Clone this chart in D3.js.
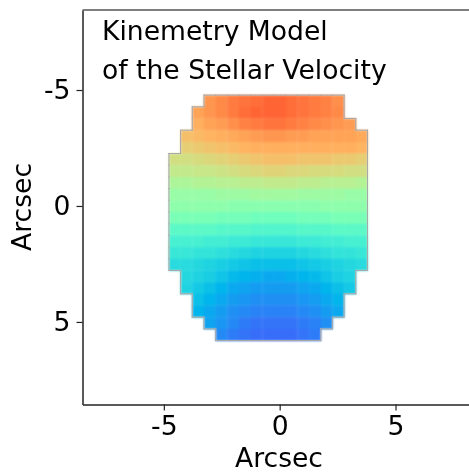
<!DOCTYPE html>
<html><head><meta charset="utf-8">
<script src="https://cdn.jsdelivr.net/npm/d3@7"></script>
<style>html,body{margin:0;padding:0;background:#fff}svg{display:block}
text{font-family:"DejaVu Sans",sans-serif;fill:#000}</style></head>
<body><svg id="c" width="469" height="472"></svg>
<script>
const xTicks=[-5,0,5], yTicks=[-5,0,5];
const xLabel="Arcsec", yLabel="Arcsec";
const titleLines=["Kinemetry Model","of the Stellar Velocity"];
const firstCol=-4.78, firstRow=-4.78, cellSize=0.504;
// colour position (0-100) per spaxel, top row first; null = no data
const _=null;
const velocity=[
[_,_,_,80,82,84,85,86,87,87,86,85,84,83,81,_,_],
[_,_,78,80,82,84,86,87,87,87,86,85,84,83,82,_,_],
[_,_,76,78,79,81,83,84,85,85,84,83,82,81,80,79,_],
[_,73,74,75,76,77,78,79,80,80,79,79,78,78,78,78,77],
[_,70,71,72,73,74,75,76,76,76,76,76,76,76,76,76,75],
[66,66,67,68,69,70,71,72,73,73,73,72,72,72,71,71,70],
[63,63,64,64,65,66,67,68,69,69,68,68,67,67,67,66,66],
[59,59,60,60,61,61,62,62,63,63,63,62,62,61,61,61,60],
[55,55,55,55,56,56,56,57,57,57,57,56,56,56,56,55,55],
[53,53,53,53,53,52,52,52,52,52,52,52,52,53,53,53,53],
[49,49,49,49,48,48,48,47,47,47,47,48,48,48,49,49,49],
[43,43,43,43,42,42,42,41,41,41,41,42,42,42,43,43,43],
[39,39,39,38,38,37,37,36,36,36,36,37,37,38,38,39,39],
[36,36,35,35,34,33,32,31,31,31,31,32,33,34,35,35,36],
[33,33,32,31,30,29,28,27,27,27,27,28,29,30,31,32,33],
[_,32,31,30,28,26,25,24,23,23,24,25,26,28,30,31,_],
[_,31,29,27,25,23,22,21,21,21,21,22,23,25,27,29,_],
[_,_,27,25,23,21,20,19,19,19,19,20,21,23,25,_,_],
[_,_,25,23,21,19,18,17,17,17,17,18,19,21,23,_,_],
[_,_,_,22,20,18,16,15,15,15,15,16,17,19,_,_,_],
[_,_,_,_,18,16,15,14,14,14,14,15,16,_,_,_,_]
];
function rainbow(t){
  const r=Math.min(1,Math.abs(2*t-0.5)),g=Math.sin(Math.PI*t),b=Math.cos(Math.PI*t/2);
  return d3.rgb(255*r,255*g,255*b);
}
const color=d3.scaleSequential(rainbow).domain([0,100]);
const svg=d3.select("#c");
const L=82.5,B=404.5,T=10,FS="26.6px",AXC="#222";
const x=d3.scaleLinear().domain([-8.51,8.3]).range([L,472]);
const y=d3.scaleLinear().domain([-8.45,8.56]).range([T,B]);
const cells=[];
velocity.forEach((row,i)=>row.forEach((v,j)=>{if(v!==null)cells.push({i,j,v});}));
const X=j=>x(firstCol+j*cellSize), Y=i=>y(firstRow+i*cellSize);
const g=svg.append("g").style("filter","blur(0.8px)");
g.selectAll("rect").data(cells).join("rect")
 .attr("x",d=>X(d.j)).attr("y",d=>Y(d.i))
 .attr("width",d=>X(d.j+1)-X(d.j)+.3).attr("height",d=>Y(d.i+1)-Y(d.i)+.3)
 .attr("fill",d=>color(d.v));
const has=(i,j)=>i>=0&&i<velocity.length&&j>=0&&j<velocity[0].length&&velocity[i][j]!==null;
const edges=[];
cells.forEach(({i,j})=>{
 if(!has(i-1,j))edges.push([X(j),Y(i),X(j+1),Y(i)]);
 if(!has(i,j-1))edges.push([X(j),Y(i),X(j),Y(i+1)]);
 if(!has(i,j+1))edges.push([X(j+1),Y(i),X(j+1),Y(i+1)]);
 if(!has(i+1,j))edges.push([X(j),Y(i+1),X(j+1),Y(i+1)]);
});
svg.append("g").style("filter","blur(0.4px)").selectAll("line").data(edges).join("line")
 .attr("x1",d=>d[0]).attr("y1",d=>d[1]).attr("x2",d=>d[2]).attr("y2",d=>d[3])
 .attr("stroke","#a8a8a8").attr("stroke-width",1.1).attr("stroke-linecap","square");
const ax=svg.append("g").style("filter","blur(0.4px)");
const style=a=>{a.selectAll("text").style("font-size",FS);
 a.select(".domain").attr("stroke",AXC).attr("stroke-width",1.5);
 a.selectAll("line").attr("stroke",AXC).attr("stroke-width",1.2);};
ax.append("g").attr("transform",`translate(0,${B})`)
 .call(d3.axisBottom(x).tickValues(xTicks).tickSize(6).tickSizeOuter(0).tickPadding(6).tickFormat(d=>d)).call(style);
ax.append("g").attr("transform",`translate(${L},0)`)
 .call(d3.axisLeft(y).tickValues(yTicks).tickSize(6).tickSizeOuter(0).tickPadding(6).tickFormat(d=>d)).call(style);
ax.append("text").attr("x",279).attr("y",467).attr("text-anchor","middle").style("font-size",FS).text(xLabel);
ax.append("text").attr("transform","translate(31,207) rotate(-90)").attr("text-anchor","middle").style("font-size",FS).text(yLabel);
ax.append("line").attr("x1",L).attr("x2",469).attr("y1",T).attr("y2",T).attr("stroke","#555").attr("stroke-width",1.5);
titleLines.forEach((t,k)=>ax.append("text").attr("x",102).attr("y",[40,79][k]).style("font-size",FS).text(t));
</script></body></html>
